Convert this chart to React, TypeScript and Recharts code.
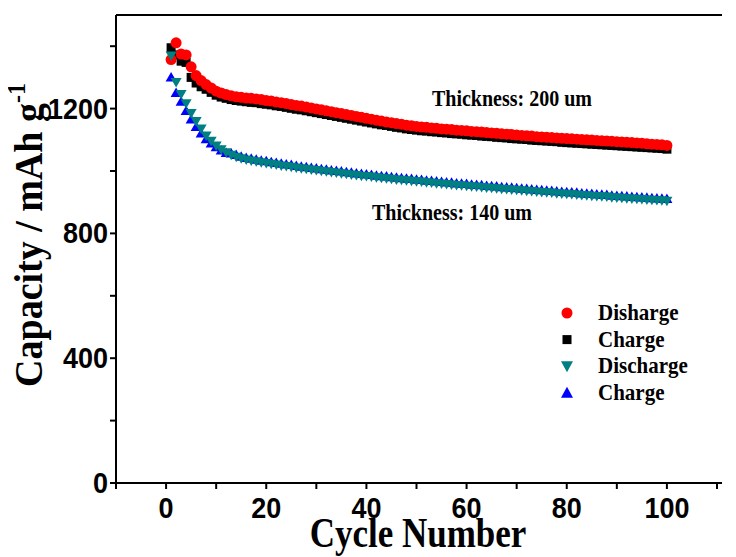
import { ScatterChart, Scatter, XAxis, YAxis } from 'recharts';

// cycle-by-cycle capacity (mAh/g), 100 cycles
const dishargeThick = [
  1357, 1411, 1375, 1372, 1334, 1306, 1290, 1277, 1266, 1256,
  1250, 1245, 1241, 1238, 1236, 1234, 1233, 1231, 1229, 1226,
  1224, 1221, 1219, 1216, 1213, 1210, 1208, 1205, 1202, 1199,
  1196, 1193, 1190, 1187, 1184, 1181, 1178, 1175, 1172, 1169,
  1166, 1163, 1160, 1157, 1155, 1152, 1150, 1147, 1145, 1143,
  1141, 1140, 1138, 1137, 1135, 1134, 1133, 1131, 1130, 1129,
  1127, 1126, 1125, 1123, 1122, 1121, 1119, 1118, 1117, 1115,
  1114, 1113, 1112, 1110, 1109, 1108, 1107, 1106, 1105, 1104,
  1103, 1102, 1101, 1100, 1099, 1098, 1097, 1096, 1095, 1094,
  1093, 1092, 1091, 1090, 1089, 1087, 1086, 1085, 1084, 1082,
];

const chargeThick = [
  1395, 1372, 1352, 1348, 1300, 1282, 1270, 1262, 1252, 1243,
  1237, 1233, 1229, 1226, 1224, 1222, 1220, 1219, 1216, 1214,
  1212, 1209, 1207, 1204, 1201, 1198, 1196, 1193, 1190, 1187,
  1184, 1181, 1178, 1175, 1172, 1169, 1166, 1163, 1160, 1157,
  1154, 1151, 1148, 1146, 1143, 1140, 1138, 1135, 1133, 1131,
  1129, 1128, 1126, 1125, 1123, 1122, 1120, 1119, 1118, 1116,
  1115, 1114, 1112, 1111, 1110, 1108, 1107, 1106, 1104, 1103,
  1102, 1101, 1099, 1098, 1097, 1096, 1095, 1094, 1092, 1091,
  1090, 1089, 1088, 1087, 1086, 1085, 1084, 1083, 1082, 1081,
  1080, 1079, 1078, 1077, 1076, 1075, 1074, 1073, 1072, 1070,
];

const dischargeThin = [
  1370, 1285, 1247, 1217, 1186, 1160, 1136, 1114, 1097, 1082,
  1070, 1060, 1052, 1046, 1041, 1037, 1034, 1031, 1028, 1026,
  1023, 1021, 1018, 1016, 1014, 1011, 1009, 1007, 1005, 1003,
  1001, 999, 997, 995, 993, 991, 989, 987, 985, 984,
  982, 980, 978, 977, 975, 973, 972, 970, 969, 967,
  966, 964, 963, 961, 960, 958, 957, 955, 954, 953,
  951, 950, 949, 947, 946, 945, 943, 942, 941, 940,
  938, 937, 936, 934, 933, 932, 931, 929, 928, 927,
  926, 925, 923, 922, 921, 920, 919, 918, 916, 915,
  914, 913, 912, 911, 910, 909, 908, 907, 906, 905,
];

const chargeThin = [
  1300, 1250, 1222, 1192, 1165, 1141, 1120, 1102, 1088, 1076,
  1066, 1058, 1056, 1051, 1046, 1042, 1039, 1036, 1033, 1031,
  1028, 1026, 1023, 1021, 1019, 1016, 1014, 1012, 1010, 1008,
  1006, 1004, 1002, 1000, 998, 996, 994, 992, 990, 989,
  987, 985, 983, 982, 980, 978, 977, 975, 974, 972,
  971, 969, 968, 966, 965, 963, 962, 960, 959, 958,
  956, 955, 954, 952, 951, 950, 948, 947, 946, 945,
  943, 942, 941, 939, 938, 937, 936, 934, 933, 932,
  931, 930, 928, 927, 926, 925, 924, 923, 921, 920,
  919, 918, 917, 916, 915, 914, 913, 912, 911, 910,
];

const cycles = dishargeThick.map((_, i) => i + 1);

const xTicks = [-10, 0, 10, 20, 30, 40, 50, 60, 70, 80, 90, 100, 110];
const yTicks = [0, 200, 400, 600, 800, 1000, 1200, 1400];

const toPoints = (vals: number[]) => vals.map((v, i) => ({ cycle: cycles[i], capacity: v }));

const SERIF = '"Liberation Serif", "Times New Roman", serif';
const SANS = '"Liberation Sans", Arial, sans-serif';

const RED = '#ff0000';
const BLACK = '#000000';
const TEAL = '#008080';
const BLUE = '#0000ff';

const Dot = ({ cx, cy }: any) => <circle cx={cx} cy={cy} r={5.5} fill={RED} />;
const Box = ({ cx, cy }: any) => <rect x={cx - 4.5} y={cy - 4.5} width={9} height={9} fill={BLACK} />;
const TriDown = ({ cx, cy }: any) => (
  <polygon points={`${cx - 5.5},${cy - 4} ${cx + 5.5},${cy - 4} ${cx},${cy + 5.5}`} fill={TEAL} />
);
const TriUp = ({ cx, cy }: any) => (
  <polygon points={`${cx - 5.5},${cy + 4} ${cx + 5.5},${cy + 4} ${cx},${cy - 5.5}`} fill={BLUE} />
);

const XTick = ({ x, y, payload }: any) => {
  if (payload.value % 20 !== 0 || payload.value > 100) return <g />;
  return (
    <text
      transform={`translate(${x},${y + 27}) scale(1,1.12)`}
      textAnchor="middle"
      fontFamily={SANS}
      fontWeight="bold"
      fontSize={27}
      fill="#000"
    >
      {payload.value}
    </text>
  );
};

const YTick = ({ x, y, payload }: any) => {
  if (payload.value % 400 !== 0) return <g />;
  return (
    <text
      transform={`translate(${x},${y + 10}) scale(1,1.12)`}
      textAnchor="end"
      fontFamily={SANS}
      fontWeight="bold"
      fontSize={27}
      fill="#000"
    >
      {payload.value}
    </text>
  );
};

const legendRows = [
  { label: 'Disharge', color: RED, kind: 'circle' },
  { label: 'Charge', color: BLACK, kind: 'square' },
  { label: 'Discharge', color: TEAL, kind: 'down' },
  { label: 'Charge', color: BLUE, kind: 'up' },
];

function LegendMarker({ kind, color, cx, cy }: any) {
  if (kind === 'circle') return <circle cx={cx} cy={cy} r={5.5} fill={color} />;
  if (kind === 'square') return <rect x={cx - 4.5} y={cy - 4.5} width={9} height={9} fill={color} />;
  if (kind === 'down')
    return <polygon points={`${cx - 6},${cy - 5} ${cx + 6},${cy - 5} ${cx},${cy + 6}`} fill={color} />;
  return <polygon points={`${cx - 6},${cy + 5} ${cx + 6},${cy + 5} ${cx},${cy - 6}`} fill={color} />;
}

export default function App() {
  return (
    <div style={{ position: 'relative', width: 728, height: 549, overflow: 'hidden', background: '#fff' }}>
      <ScatterChart width={728} height={549} margin={{ top: 6, right: 14, bottom: 0, left: 0 }}>
        <XAxis
          dataKey="cycle"
          type="number"
          domain={[-10, 111]}
          ticks={xTicks}
          allowDataOverflow
          height={74}
          axisLine={{ stroke: '#000', strokeWidth: 2 }}
          tickLine={{ stroke: '#000', strokeWidth: 2 }}
          tickSize={6}
          tickMargin={2}
          tick={<XTick />}
        />
        <XAxis
          xAxisId="top"
          orientation="top"
          type="number"
          domain={[-10, 111]}
          ticks={xTicks}
          allowDataOverflow
          height={1}
          axisLine={{ stroke: '#000', strokeWidth: 2 }}
          tickLine={{ stroke: '#000', strokeWidth: 2 }}
          tickSize={3}
          tick={<g />}
        />
        <YAxis
          dataKey="capacity"
          type="number"
          domain={[0, 1500]}
          ticks={yTicks}
          allowDataOverflow
          width={108}
          axisLine={{ stroke: '#000', strokeWidth: 2 }}
          tickLine={{ stroke: '#000', strokeWidth: 2 }}
          tickSize={6}
          tickMargin={2}
          tick={<YTick />}
        />
        <Scatter data={toPoints(chargeThick)} shape={Box} isAnimationActive={false} />
        <Scatter data={toPoints(dishargeThick)} shape={Dot} isAnimationActive={false} />
        <Scatter data={toPoints(chargeThin)} shape={TriUp} isAnimationActive={false} />
        <Scatter data={toPoints(dischargeThin)} shape={TriDown} isAnimationActive={false} />
      </ScatterChart>

      <svg
        width={728}
        height={549}
        style={{ position: 'absolute', left: 0, top: 0, pointerEvents: 'none' }}
      >
        <g fontFamily={SERIF} fontWeight="bold" fill="#000">
          <text transform="translate(424,98) scale(1,1.2)" fontSize={20}>
            Thickness: 200 um
          </text>
          <text transform="translate(364,212) scale(1,1.2)" fontSize={20}>
            Thickness: 140 um
          </text>
          <text transform="translate(410,539) scale(1,1.2)" fontSize={35} textAnchor="middle">
            Cycle Number
          </text>
          <text transform="translate(34,227) rotate(-90) scale(1,1.08)" fontSize={38} textAnchor="middle">
            Capacity / mAh g
            <tspan fontSize={24} dy={-16}>-1</tspan>
          </text>
          {legendRows.map((row, i) => (
            <g key={i}>
              <LegendMarker kind={row.kind} color={row.color} cx={559} cy={305 + i * 26.6} />
              <text transform={`translate(590,${312 + i * 26.6}) scale(1,1.1)`} fontSize={21}>
                {row.label}
              </text>
            </g>
          ))}
        </g>
      </svg>
    </div>
  );
}
